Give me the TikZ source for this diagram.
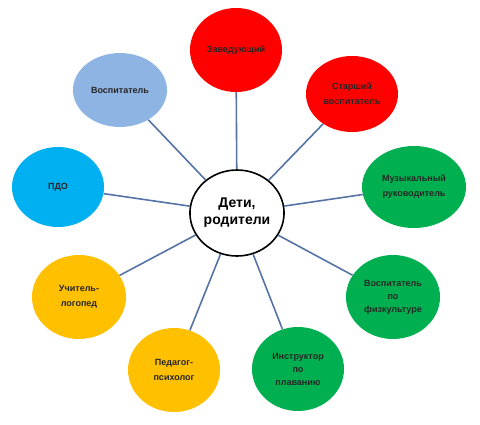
\documentclass[tikz,border=0pt]{standalone}
\usepackage{fontspec}
\setmainfont{Liberation Sans}
\usetikzlibrary{shapes.geometric}
\definecolor{cred}{HTML}{FF0000}
\definecolor{clblue}{HTML}{8EB4E3}
\definecolor{ccyan}{HTML}{00B0F0}
\definecolor{cgreen}{HTML}{00B050}
\definecolor{cyellow}{HTML}{FFC000}
\definecolor{cline}{HTML}{5673A6}
\tikzset{
  bub/.style={ellipse, inner sep=0pt, align=center, font=\bfseries\fontsize{9}{15}\selectfont, text=black!85},
  link/.style={draw=cline, line width=1.6pt}
}
\begin{document}
\begin{tikzpicture}[x=1pt,y=-1pt]
\useasboundingbox (0,0) rectangle (480,424);
\node[ellipse, draw=black, line width=1.6pt, fill=white, minimum width=94pt, minimum height=86pt, inner sep=0pt, align=center, font=\fontsize{14}{17}\selectfont\bfseries] (c) at (237,213) {Дети,\\родители};
\node[bub, fill=cred, minimum width=92pt, minimum height=84pt] (zav) at (236,50) {Заведующий};
\node[bub, fill=clblue, minimum width=94pt, minimum height=74pt] (vos) at (120,90) {Воспитатель};
\node[bub, fill=cred, minimum width=92pt, minimum height=76pt] (star) at (352,94) {Старший\\воспитатель};
\node[bub, fill=ccyan, minimum width=92pt, minimum height=80pt] (pdo) at (58,187) {ПДО};
\node[bub, fill=cgreen, minimum width=104pt, minimum height=82pt] (muz) at (414,187) {Музыкальный\\руководитель};
\node[bub, fill=cyellow, minimum width=94pt, minimum height=84pt] (log) at (79,297) {Учитель-\\логопед};
\node[bub, fill=cyellow, minimum width=92pt, minimum height=84pt] (psy) at (174,370) {Педагог-\\психолог};
\node[bub, fill=cgreen, minimum width=92pt, minimum height=84pt, font=\bfseries\fontsize{9}{13}\selectfont] (plav) at (298,369) {Инструктор\\по\\плаванию};
\node[bub, fill=cgreen, minimum width=94pt, minimum height=84pt, font=\bfseries\fontsize{9}{13}\selectfont] (fiz) at (393,297) {Воспитатель\\по\\физкультуре};
\foreach \n in {zav,vos,star,pdo,muz,log,psy,plav,fiz}
  \draw[link] (c) -- (\n);
\end{tikzpicture}
\end{document}
